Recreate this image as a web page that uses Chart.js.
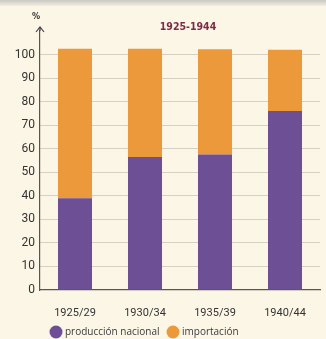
<!DOCTYPE html>
<html>
<head>
<meta charset="utf-8">
<script src="https://cdn.jsdelivr.net/npm/chart.js@4"></script>
<style>
  html, body { margin: 0; padding: 0; background: #fcf6e7; }
  #wrap { width: 326px; height: 339px; position: relative; }
</style>
</head>
<body>
<div id="wrap"><canvas id="c" width="326" height="339"></canvas></div>
<script>
// Periods and shares (%) of national production vs imports
const periods = ['1925/29', '1930/34', '1935/39', '1940/44'];
const produccionNacional = [39, 56.5, 57.5, 76];
const importacion = [63.5, 46, 44.8, 26];
const yTicks = [0, 10, 20, 30, 40, 50, 60, 70, 80, 90, 100];
const titleText = '1925-1944';
const unitText = '%';

const PURPLE = '#6d4f95';
const ORANGE = '#eb993b';

// Background, top strip, title, unit label, axis arrow and legend
const decor = {
  id: 'decor',
  beforeDraw(chart) {
    const ctx = chart.ctx;
    ctx.save();
    ctx.fillStyle = '#fcf6e7';
    ctx.fillRect(0, 0, chart.width, chart.height);
    const g = ctx.createLinearGradient(0, 0, 0, 6);
    g.addColorStop(0, '#c9c7c3');
    g.addColorStop(1, '#f3eee2');
    ctx.fillStyle = g;
    ctx.fillRect(0, 0, chart.width, 6);
    ctx.restore();
  },
  afterDraw(chart) {
    const ctx = chart.ctx;
    const a = chart.chartArea;
    ctx.save();
    // title
    ctx.fillStyle = '#7b2b47';
    ctx.font = 'bold 10.5px "DejaVu Sans Condensed", "DejaVu Sans", sans-serif';
    ctx.textAlign = 'center';
    ctx.textBaseline = 'middle';
    ctx.fillText(titleText, a.left + 148, 27);
    // unit
    ctx.fillStyle = '#333';
    ctx.font = 'bold 9px "DejaVu Sans Condensed", "DejaVu Sans", sans-serif';
    ctx.fillText(unitText, a.left - 4, 17);
    // arrow on top of the value axis
    ctx.strokeStyle = '#444';
    ctx.lineWidth = 1.2;
    ctx.beginPath();
    ctx.moveTo(a.left, a.top);
    ctx.lineTo(a.left, 27);
    ctx.moveTo(a.left - 4, 32);
    ctx.lineTo(a.left, 27);
    ctx.lineTo(a.left + 4, 32);
    ctx.stroke();
    // legend
    ctx.textAlign = 'left';
    ctx.textBaseline = 'middle';
    ctx.font = '10px "Open Sans", sans-serif';
    const ly = 332;
    const xs = [a.left + 16, a.left + 133];
    chart.data.datasets.forEach((ds, i) => {
      ctx.fillStyle = ds.backgroundColor;
      ctx.beginPath();
      ctx.arc(xs[i], ly, 6.5, 0, Math.PI * 2);
      ctx.fill();
      ctx.fillStyle = '#3a3a3a';
      ctx.fillText(ds.label, xs[i] + 9, ly);
    });
    ctx.restore();
  }
};

new Chart(document.getElementById('c'), {
  type: 'bar',
  data: {
    labels: periods,
    datasets: [
      { label: 'producción nacional', data: produccionNacional, backgroundColor: PURPLE },
      { label: 'importación', data: importacion, backgroundColor: ORANGE }
    ]
  },
  options: {
    responsive: false,
    animation: false,
    devicePixelRatio: 1,
    layout: { padding: { top: 31, right: 6, left: 0, bottom: 0 } },
    plugins: { legend: { display: false }, tooltip: { enabled: false }, title: { display: false } },
    datasets: { bar: { categoryPercentage: 1, barPercentage: 0.486 } },
    scales: {
      x: {
        stacked: true,
        afterFit(s) { s.height = 49; },
        grid: { display: false, drawTicks: false },
        border: { display: true, color: '#555', width: 1.2 },
        ticks: {
          padding: 17,
          color: '#333',
          font: { family: 'Roboto', size: 11 }
        }
      },
      y: {
        stacked: true,
        min: 0,
        max: 110,
        afterFit(s) { s.width = 40; },
        afterBuildTicks(s) { s.ticks = yTicks.map(v => ({ value: v })); },
        grid: {
          drawTicks: false,
          color: ctx => (ctx.tick && ctx.tick.value === 0) ? 'rgba(0,0,0,0)' : '#d5d0c2',
          lineWidth: 1
        },
        border: { display: true, color: '#555', width: 1.2 },
        ticks: {
          padding: 5,
          color: '#333',
          font: { family: 'Roboto', size: 12 }
        }
      }
    }
  },
  plugins: [decor]
});
</script>
</body>
</html>
